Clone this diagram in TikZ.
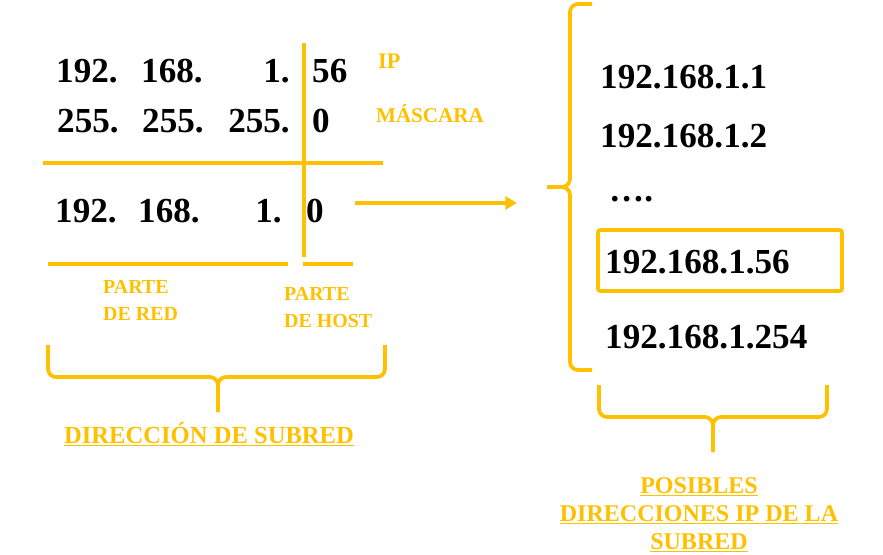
\documentclass[tikz,border=0pt]{standalone}
\usepackage{fontspec}
\setmainfont{Liberation Serif}
\usepackage{tikz}
\usetikzlibrary{arrows.meta}
\definecolor{gold}{HTML}{FFC000}

\begin{document}
\begin{tikzpicture}[
  x=0.03cm, y=-0.03cm,
  num/.style={inner sep=0pt, font=\fontsize{30}{36}\selectfont\bfseries},
  lbl/.style={inner sep=0pt, text=gold, font=\fontsize{17}{23}\selectfont\bfseries},
  biglbl/.style={inner sep=0pt, text=gold, align=center, font=\fontsize{20.5}{24}\selectfont\bfseries},
  bar/.style={draw=gold, line width=3.2pt},
  bracket/.style={draw=gold, line width=3.2pt, rounded corners=7pt},
  arrow/.style={draw=gold, line width=3.2pt, -{Triangle[length=10pt,width=11pt]}}
]
\useasboundingbox (0,0) rectangle (883,555);

\node[num, anchor=base west] (ipA) at (56,82) {192.};
\node[num, anchor=base west] (ipB) at (141,82) {168.};
\node[num, anchor=base east] (ipC) at (290,82) {1.};
\node[num, anchor=base west] (ipD) at (312,82) {56};
\node[num, anchor=base west] (mkA) at (57,132) {255.};
\node[num, anchor=base west] (mkB) at (142,132) {255.};
\node[num, anchor=base east] (mkC) at (290,132) {255.};
\node[num, anchor=base west] (mkD) at (312,132) {0};
\node[num, anchor=base west] (netA) at (55,222) {192.};
\node[num, anchor=base west] (netB) at (138,222) {168.};
\node[num, anchor=base east] (netC) at (282,222) {1.};
\node[num, anchor=base west] (netD) at (306,222) {0};

\draw[bar] (304,43) -- (304,257);
\draw[bar] (43,163) -- (383,163);
\draw[bar] (48,264) -- (288,264);
\draw[bar] (303,264) -- (353,264);

\node[lbl, font=\fontsize{19}{23}\selectfont\bfseries, anchor=base west] (ipL) at (378,68) {IP};
\node[lbl, font=\fontsize{18}{23}\selectfont\bfseries, anchor=base] (mkL) at (430,122) {MÁSCARA};
\node[lbl, anchor=north west, align=left] (redL) at (103,280) {PARTE\\DE RED};
\node[lbl, anchor=north west, align=left] (hostL) at (284,287) {PARTE\\DE HOST};

\draw[bracket] (48,345) -- (48,377) -- (218,377) -- (218,412);
\draw[bracket] (385,345) -- (385,377) -- (218,377) -- (218,412);
\node[biglbl, font=\fontsize{21}{25}\selectfont\bfseries, anchor=base] (subL) at (209,443) {\underline{DIRECCIÓN DE SUBRED}};

\coordinate (arrS) at (355,203);
\coordinate (arrE) at (517,203);
\draw[arrow] (arrS) -- (arrE);

\draw[bracket] (592,4) -- (570,4) -- (570,187) -- (547,187);
\draw[bracket] (592,370) -- (570,370) -- (570,187) -- (547,187);

\node[num, anchor=base west] (hA) at (600,88) {192.168.1.1};
\node[num, anchor=base west] (hB) at (600,147) {192.168.1.2};
\node[num, anchor=base west] (hDots) at (609,201) {….};
\node[num, anchor=base west] (hSel) at (605,273) {192.168.1.56};
\node[num, anchor=base west] (hLast) at (605,348) {192.168.1.254};
\draw[gold, line width=3.2pt, rounded corners=2pt] (598,230) rectangle (842,291);

\draw[bracket] (599,385) -- (599,417) -- (713,417) -- (713,452);
\draw[bracket] (827,385) -- (827,417) -- (713,417) -- (713,452);
\node[biglbl, anchor=north] (posL) at (699,477) {\underline{POSIBLES}\\\underline{DIRECCIONES IP DE LA}\\\underline{SUBRED}};
\end{tikzpicture}
\end{document}
